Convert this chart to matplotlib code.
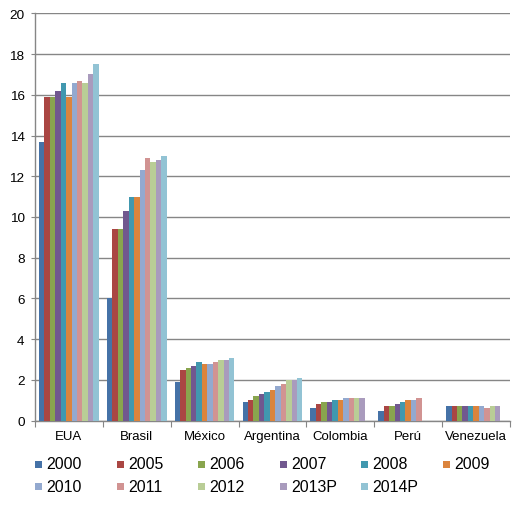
import numpy as np
import matplotlib.pyplot as plt
from matplotlib.patches import Rectangle

plt.rcParams['font.family'] = ['Liberation Sans', 'DejaVu Sans']

# Datos
paises = ["EUA", "Brasil", "México", "Argentina", "Colombia", "Perú", "Venezuela"]
anios = ["2000", "2005", "2006", "2007", "2008", "2009",
         "2010", "2011", "2012", "2013P", "2014P"]

v2000 = [13.7, 6.0, 1.9, 0.9, 0.6, 0.5, 0.7]
v2005 = [15.9, 9.4, 2.5, 1.0, 0.8, 0.7, 0.7]
v2006 = [15.9, 9.4, 2.6, 1.2, 0.9, 0.7, 0.7]
v2007 = [16.2, 10.3, 2.7, 1.3, 0.9, 0.8, 0.7]
v2008 = [16.6, 11.0, 2.9, 1.4, 1.0, 0.9, 0.7]
v2009 = [15.9, 11.0, 2.8, 1.5, 1.0, 1.0, 0.7]
v2010 = [16.6, 12.3, 2.8, 1.7, 1.1, 1.0, 0.7]
v2011 = [16.7, 12.9, 2.9, 1.8, 1.1, 1.1, 0.6]
v2012 = [16.6, 12.7, 3.0, 2.0, 1.1, None, 0.7]
v2013 = [17.0, 12.8, 3.0, 2.0, 1.1, None, 0.7]
v2014 = [17.5, 13.0, 3.1, 2.1, None, None, None]

series = [v2000, v2005, v2006, v2007, v2008, v2009,
          v2010, v2011, v2012, v2013, v2014]

colores = ["#4572A7", "#AA4643", "#89A54E", "#71588F", "#4198AF", "#DB843D",
           "#93A9CF", "#D19392", "#B9CD96", "#A99BBD", "#92C3D4"]

fig = plt.figure(figsize=(5.25, 5.10), dpi=100)
ax = fig.add_axes([35 / 525, 1 - 421.7 / 510, 475 / 525, 407.4 / 510])

x = np.arange(len(paises))
w = 1 / 12.5
for i, (vals, c) in enumerate(zip(series, colores)):
    h = np.array([np.nan if v is None else v for v in vals], dtype=float)
    ax.bar(x - 0.5 + 0.75 * w + (i + 0.5) * w, h, width=w, color=c,
           edgecolor="none", label=anios[i], zorder=3)

ax.set_xlim(-0.5, len(paises) - 0.5)
ax.set_ylim(0, 20)
ax.set_yticks(range(0, 21, 2))
ax.yaxis.grid(True, color="#868686", lw=1, zorder=0)

ax.set_xticks(np.arange(-0.5, len(paises), 1), minor=False)
ax.set_xticklabels([])
ax.set_xticks(x, minor=True)
ax.set_xticklabels(paises, minor=True, fontsize=9.5)
ax.tick_params(axis="x", which="minor", length=0, pad=7)
ax.tick_params(axis="x", which="major", length=4, color="#868686", direction="out")
ax.tick_params(axis="y", length=3, color="#868686", direction="out",
               labelsize=9.7, pad=4.5)

for s in ["top", "right"]:
    ax.spines[s].set_visible(False)
for s in ["left", "bottom"]:
    ax.spines[s].set_color("#868686")
    ax.spines[s].set_linewidth(1)

# Leyenda en rejilla como en Excel
for i, (nombre, c) in enumerate(zip(anios, colores)):
    fila, col = divmod(i, 6)
    px = 35 + col * 81.5
    py = 465 + fila * 22
    fig.add_artist(Rectangle((px / 525, 1 - (py + 3.5) / 510), 7 / 525, 7 / 510,
                             facecolor=c, edgecolor="none",
                             transform=fig.transFigure))
    fig.text((px + 11.5) / 525, 1 - py / 510, nombre, fontsize=11.4,
             va="center", ha="left")

fig.savefig("out.png", dpi=100)
